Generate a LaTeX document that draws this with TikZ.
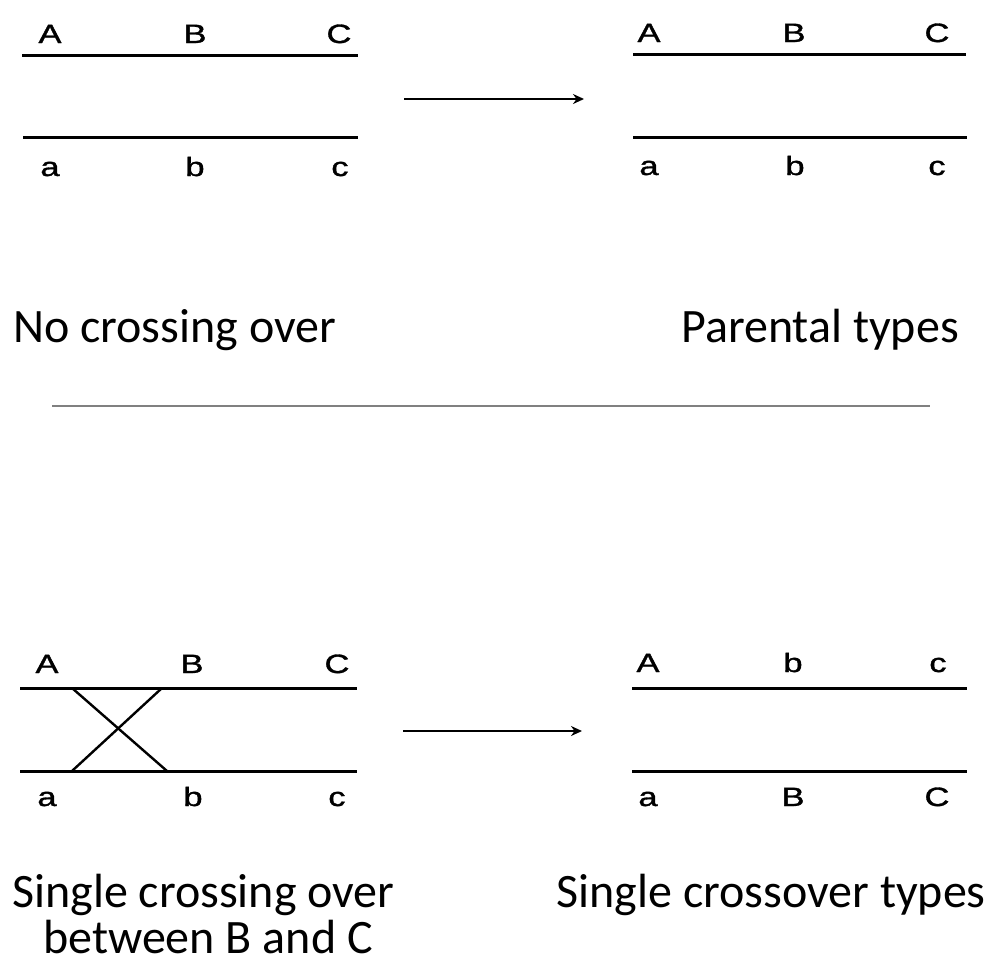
\documentclass[tikz,border=0pt]{standalone}
\usepackage{fontspec}
\setmainfont{Liberation Sans}
\newfontfamily\genefont[FakeBold=1.2]{Liberation Sans}
\newfontfamily\capfont{Carlito}
\usetikzlibrary{arrows.meta}
\tikzset{
  chrom/.style={line width=3pt, black},
  xover/.style={line width=2.4pt, black},
  gene/.style={anchor=base, inner sep=0pt, xscale=1.3, font=\genefont\fontsize{26.5}{26.5}\selectfont},
  caption/.style={inner sep=0pt, font=\capfont\fontsize{48}{54}\selectfont},
  goes/.style={line width=2pt, -{Stealth[length=11pt,width=10pt]}},
  sep/.style={line width=2.8pt, color=black!50}
}
\begin{document}
\begin{tikzpicture}[x=1pt,y=-1pt]
\useasboundingbox (0,0) rectangle (993,975);
% ---------- top left
\coordinate (tl1a) at (22,55); \coordinate (tl1b) at (358,55);
\coordinate (tl2a) at (23,137); \coordinate (tl2b) at (358,137);
\draw[chrom] (tl1a) -- (tl1b);
\draw[chrom] (tl2a) -- (tl2b);
\node[gene] (tlA) at (50,43) {A};
\node[gene] (tlB) at (195,43) {B};
\node[gene] (tlC) at (339,43) {C};
\node[gene] (tla) at (50,176) {a};
\node[gene] (tlb) at (195,176) {b};
\node[gene] (tlc) at (340,176) {c};
% arrow top
\coordinate (ar1a) at (404,99); \coordinate (ar1b) at (584,99);
\draw[goes] (ar1a) -- (ar1b);
% ---------- top right
\coordinate (tr1a) at (633,54); \coordinate (tr1b) at (966,54);
\coordinate (tr2a) at (633,137); \coordinate (tr2b) at (967,137);
\draw[chrom] (tr1a) -- (tr1b);
\draw[chrom] (tr2a) -- (tr2b);
\node[gene] (trA) at (649,42) {A};
\node[gene] (trB) at (794,42) {B};
\node[gene] (trC) at (937,42) {C};
\node[gene] (tra) at (649,175) {a};
\node[gene] (trb) at (795,175) {b};
\node[gene] (trc) at (937,175) {c};
% captions top
\node[caption, anchor=base west] (nocross) at (13,342) {No crossing over};
\node[caption, anchor=base east] (parental) at (959,342) {Parental types};
% separator
\coordinate (sepa) at (52,406); \coordinate (sepb) at (930,406);
\draw[sep] (sepa) -- (sepb);
% ---------- bottom left
\coordinate (bl1a) at (20,688); \coordinate (bl1b) at (357,688);
\coordinate (bl2a) at (20,771); \coordinate (bl2b) at (357,771);
\draw[chrom] (bl1a) -- (bl1b);
\draw[chrom] (bl2a) -- (bl2b);
\coordinate (x1a) at (72,688); \coordinate (x1b) at (167,771);
\coordinate (x2a) at (162,688); \coordinate (x2b) at (72,771);
\draw[xover] (x1a) -- (x1b);
\draw[xover] (x2a) -- (x2b);
\node[gene] (blA) at (47,673) {A};
\node[gene] (blB) at (192,673) {B};
\node[gene] (blC) at (337,673) {C};
\node[gene] (bla) at (47,806) {a};
\node[gene] (blb) at (193,806) {b};
\node[gene] (blc) at (337,806) {c};
% arrow bottom
\coordinate (ar2a) at (403,731); \coordinate (ar2b) at (582,731);
\draw[goes] (ar2a) -- (ar2b);
% ---------- bottom right
\coordinate (br1a) at (632,688); \coordinate (br1b) at (967,688);
\coordinate (br2a) at (632,771); \coordinate (br2b) at (967,771);
\draw[chrom] (br1a) -- (br1b);
\draw[chrom] (br2a) -- (br2b);
\node[gene] (brA) at (648,672) {A};
\node[gene] (brb) at (793,672) {b};
\node[gene] (brc) at (938,672) {c};
\node[gene] (bra) at (648,806) {a};
\node[gene] (brB) at (793,806) {B};
\node[gene] (brC) at (937,806) {C};
% captions bottom
\node[caption, anchor=base west] (single1) at (12,907) {Single crossing over};
\node[caption, anchor=base] (single2) at (208,953) {between B and C};
\node[caption, anchor=base east] (singletypes) at (986,907) {Single crossover types};
\end{tikzpicture}
\end{document}
